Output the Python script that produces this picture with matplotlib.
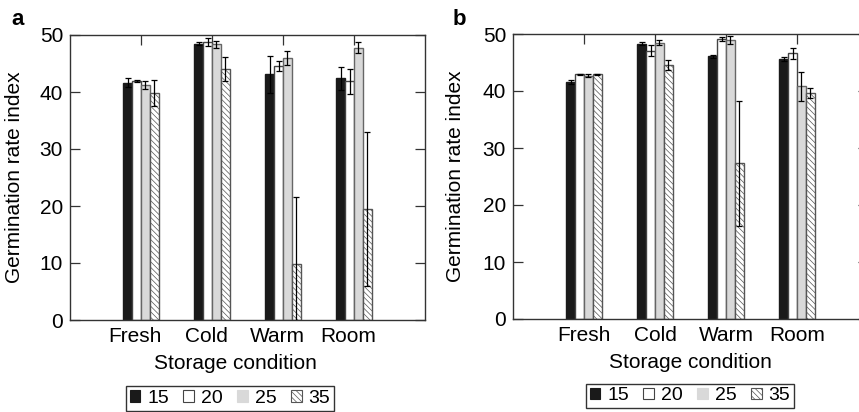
import numpy as np
import matplotlib
matplotlib.use("Agg")
import matplotlib.pyplot as plt
from matplotlib.patches import Patch
import matplotlib.transforms as mtransforms

plt.rcParams['font.family'] = ['Liberation Sans', 'DejaVu Sans']
plt.rcParams['hatch.color'] = '#6a6a6a'
plt.rcParams['hatch.linewidth'] = 0.5

# data
conditions = ["Fresh", "Cold", "Warm", "Room"]
temps = ["15", "20", "25", "35"]

# panel a: mean and error for each temperature, per storage condition
a_means = [
    [41.6, 48.5, 43.1, 42.4],   # 15
    [41.9, 48.8, 44.6, 41.9],   # 20
    [41.2, 48.4, 46.0, 47.8],   # 25
    [39.8, 44.0, 9.8, 19.5],    # 35
]
a_errs = [
    [0.8, 0.2, 3.2, 2.0],
    [0.2, 0.7, 0.9, 2.2],
    [0.7, 0.6, 1.2, 1.0],
    [2.3, 2.1, 11.7, 13.5],
]

# panel b
b_means = [
    [41.6, 48.3, 46.1, 45.6],
    [42.9, 47.1, 49.1, 46.6],
    [42.7, 48.5, 48.9, 40.8],
    [42.9, 44.6, 27.3, 39.6],
]
b_errs = [
    [0.3, 0.3, 0.3, 0.4],
    [0.1, 1.0, 0.3, 1.0],
    [0.3, 0.5, 0.7, 2.6],
    [0.1, 0.9, 10.9, 0.9],
]

# styles for the four temperatures
faces = ['#1a1a1a', 'white', '#d9d9d9', 'white']
edges = ['#1a1a1a', '#444444', '#666666', '#555555']
hatches = [None, None, None, '\\' * 6]

W, H = 859, 412
FS = 15
fig = plt.figure(figsize=(W / 100, H / 100), dpi=100)


def px_axes(x0, y0, x1, y1):
    return fig.add_axes([x0 / W, (H - y1) / H, (x1 - x0) / W, (y1 - y0) / H])


def draw_panel(ax, means, errs, label_shift):
    x = np.arange(1, len(conditions) + 1)
    w = 0.125
    for i in range(len(temps)):
        ax.bar(x + (i - 1.5) * w, means[i], w, color=faces[i], edgecolor=edges[i],
               hatch=hatches[i], linewidth=1.0, zorder=2)
        ax.errorbar(x + (i - 1.5) * w, means[i], yerr=errs[i], fmt='none',
                    ecolor='black', elinewidth=0.9, capsize=2.2, capthick=0.9, zorder=3)
    ax.set_xlim(0, 5)
    ax.set_ylim(0, 50)
    ax.set_yticks([0, 10, 20, 30, 40, 50])
    ax.set_xticks(x)
    ax.set_xticklabels(conditions)
    ax.tick_params(axis='y', direction='in', length=7, width=0.9, labelsize=FS,
                   pad=5, right=True, color='#333333')
    ax.tick_params(axis='x', direction='in', length=7, width=0.9, labelsize=FS,
                   pad=5, top=True, bottom=False, color='#333333')
    for lab in ax.get_xticklabels():
        lab.set_transform(lab.get_transform() +
                          mtransforms.ScaledTranslation(label_shift / 100, 0, fig.dpi_scale_trans))
    for s in ax.spines.values():
        s.set_color('#333333')
        s.set_linewidth(1.0)


ax1 = px_axes(70, 35, 425, 320)
draw_panel(ax1, a_means, a_errs, -6)
ax1.set_xlabel("Storage condition", fontsize=FS)
ax1.xaxis.set_label_coords((235 - 70) / 355, -(354 - 320) / 285)
ax1.set_ylabel("Germination rate index", fontsize=FS)
ax1.yaxis.set_label_coords(-(70 - 24) / 355, 0.5)

ax2 = px_axes(513, 34, 868, 319)
draw_panel(ax2, b_means, b_errs, 0)
ax2.set_xlabel("Storage condition", fontsize=FS)
ax2.xaxis.set_label_coords((690 - 513) / 355, -(353 - 319) / 285)
ax2.set_ylabel("Germination rate index", fontsize=FS)
ax2.yaxis.set_label_coords(-(513 - 465) / 355, 0.5)

fig.text(11 / W, 1 - 25 / H, "a", fontsize=16, fontweight='bold')
fig.text(453 / W, 1 - 25 / H, "b", fontsize=16, fontweight='bold')

# legends
handles = [Patch(facecolor=faces[i], edgecolor=(edges[i] if i != 2 else '#d9d9d9'),
                 hatch=hatches[i], linewidth=0.8) for i in range(len(temps))]

for cx, cy in [(230, 398.5), (690, 396)]:
    leg = fig.legend(handles, temps, loc='center', ncol=4,
                     bbox_to_anchor=(cx / W, 1 - cy / H), fontsize=14,
                     handlelength=0.55, handleheight=0.55, handletextpad=0.35,
                     columnspacing=0.75, borderpad=0.2, frameon=True,
                     fancybox=False, edgecolor='black')
    leg.get_frame().set_linewidth(1.0)

fig.savefig("out.png", dpi=100)
